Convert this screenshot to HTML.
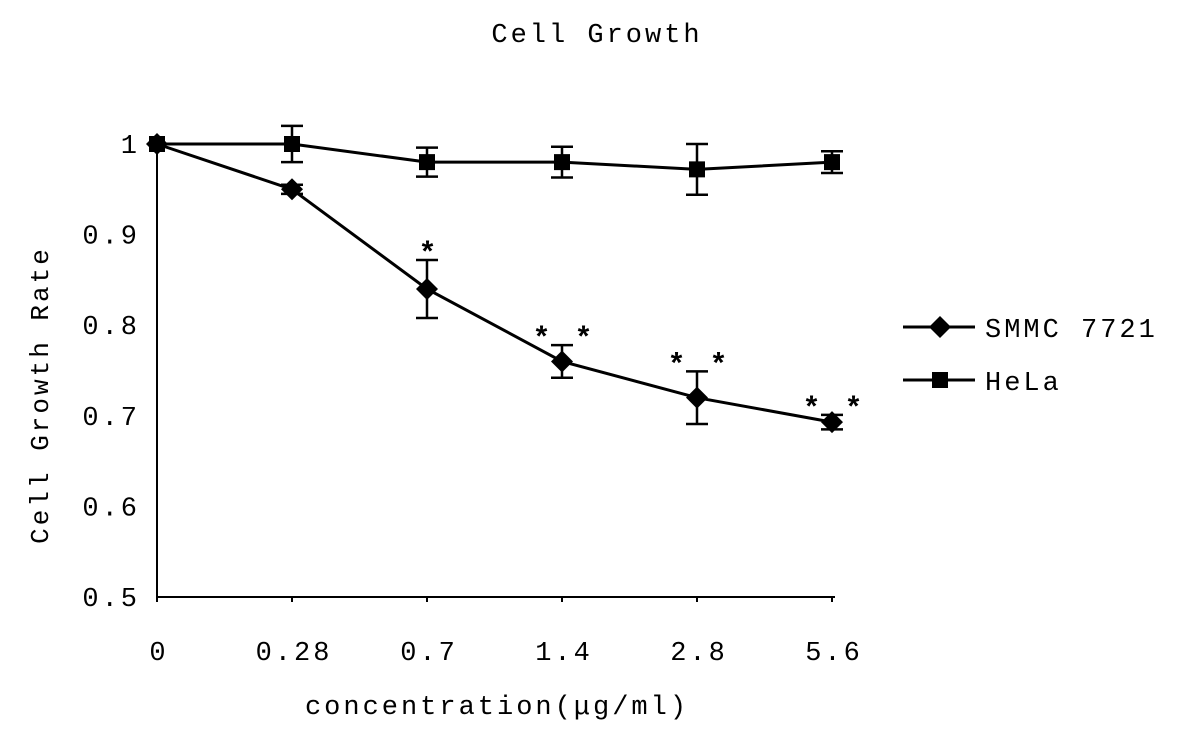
<!DOCTYPE html>
<html><head><meta charset="utf-8"><style>
body{margin:0;background:#fff;}
svg text{font-family:"Liberation Mono","Noto Sans CJK SC",monospace;fill:#000;letter-spacing:3px;}
</style></head><body>
<svg id="chart" width="1181" height="739" viewBox="0 0 1181 739">
<text x="597" y="42" font-size="27" text-anchor="middle">Cell Growth</text>
<text transform="translate(48,395) rotate(-90)" font-size="26" text-anchor="middle">Cell Growth Rate</text>
<text x="497" y="714" font-size="27" text-anchor="middle">concentration(μg/ml)</text>
<g id="axes"></g>
<g id="marks"></g>
<g>
<line x1="903" y1="327" x2="975" y2="327" stroke="#000" stroke-width="3"/>
<polygon points="940,316 951,327 940,338 929,327" fill="#000"/>
<text x="985" y="337" font-size="27">SMMC 7721</text>
<line x1="903" y1="380" x2="975" y2="380" stroke="#000" stroke-width="3"/>
<rect x="932" y="372" width="16" height="16" fill="#000"/>
<text x="985" y="390" font-size="27">HeLa</text>
</g>
</svg>
<script>
const categories=["0","0.28","0.7","1.4","2.8","5.6"];
const smmcValues=[1.0,0.95,0.84,0.76,0.72,0.693];
const smmcErrors=[0,0.005,0.032,0.018,0.029,0.008];
const helaValues=[1.0,1.0,0.98,0.98,0.972,0.98];
const helaErrors=[0,0.02,0.016,0.017,0.028,0.012];
const yTicks=[0.5,0.6,0.7,0.8,0.9,1];
const yTickLabels=["0.5","0.6","0.7","0.8","0.9","1"];
const starLabels=["","","*","* *","* *","* *"];
const NS="http://www.w3.org/2000/svg";
const xPos=i=>157+i*135;
const yPos=v=>597-(v-0.5)/0.5*453;
function mk(tag,attrs,parent){const e=document.createElementNS(NS,tag);for(const k in attrs)e.setAttribute(k,attrs[k]);parent.appendChild(e);return e;}
const axes=document.getElementById('axes'),marks=document.getElementById('marks');
let a=mk('line',{x1:157,y1:144,x2:157,y2:597,stroke:'#000','stroke-width':2},axes);


a=mk('line',{x1:157,y1:597,x2:835,y2:597,stroke:'#000','stroke-width':2},axes);


yTicks.forEach((v,i)=>{
 const l=mk('text',{x:140,y:yPos(v)+9,'font-size':27,'text-anchor':'end'},axes);l.textContent=yTickLabels[i];
 
 
});
categories.forEach((c,i)=>{
 const t=mk('line',{x1:xPos(i),y1:597,x2:xPos(i),y2:602,stroke:'#000','stroke-width':2},axes);
 
 
 const l=mk('text',{x:xPos(i)+2,y:660,'font-size':27,'text-anchor':'middle'},axes);l.textContent=c;
 
 
});
function series(vals,errs,shape,name){
 const pts=vals.map((v,i)=>xPos(i)+','+yPos(v)).join(' ');
 const pl=mk('polyline',{points:pts,fill:'none',stroke:'#000','stroke-width':3},marks);
 
 
 vals.forEach((v,i)=>{
  const x=xPos(i),y=yPos(v);
  if(errs[i]>0){
   const y1=yPos(v+errs[i]),y2=yPos(v-errs[i]);
   const g=mk('path',{d:`M${x},${y1}V${y2}M${x-11},${y1}H${x+11}M${x-11},${y2}H${x+11}`,stroke:'#000','stroke-width':2.5,fill:'none'},marks);
   
   
  }
  let m;
  if(shape==='d')m=mk('polygon',{points:`${x},${y-11} ${x+11},${y} ${x},${y+11} ${x-11},${y}`,fill:'#000'},marks);
  else m=mk('rect',{x:x-8,y:y-8,width:16,height:16,fill:'#000'},marks);
  
  
 });
}
series(helaValues,helaErrors,'s','hela');
series(smmcValues,smmcErrors,'d','smmc');
starLabels.forEach((s,i)=>{
 if(!s)return;
 const t=mk('text',{x:xPos(i)+2,y:yPos(smmcValues[i]+smmcErrors[i])+2,'font-size':30,'font-weight':'bold','text-anchor':'middle','letter-spacing':'-2px'},marks);
 t.textContent=s;
 
 
});
</script>
</body></html>
